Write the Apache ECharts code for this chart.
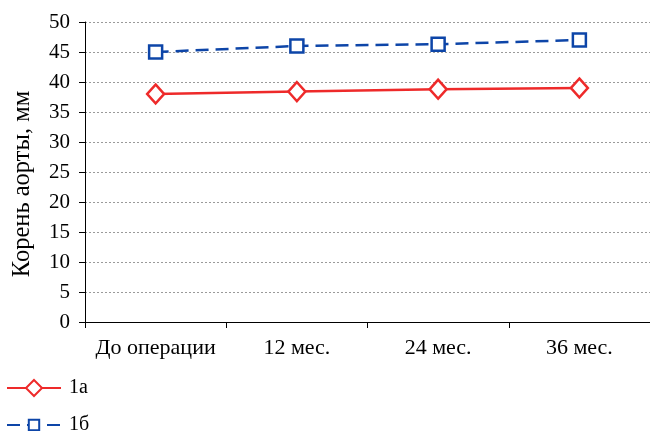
<!DOCTYPE html>
<html>
<head>
<meta charset="utf-8">
<script src="https://cdn.jsdelivr.net/npm/echarts@6/dist/echarts.min.js"></script>
<style>
  html, body { margin: 0; padding: 0; background: #fff; }
  #chart { width: 650px; height: 431px; }
</style>
</head>
<body>
<div id="chart"></div>
<script>
// Aortic root diameter over follow-up, two patient groups
const categories = ['До операции', '12 мес.', '24 мес.', '36 мес.'];
const group1a = [38.0, 38.4, 38.8, 39.0];
const group1b = [45.0, 46.0, 46.3, 47.0];
const yTicks = { min: 0, max: 50, interval: 5 };

const font = '"Liberation Serif", "Times New Roman", serif';
const red = '#ee2a2a';
const blue = '#0d45a8';
const chart = echarts.init(document.getElementById('chart'));

// one legend block per series, stacked under the plot
const legendBase = {
  orient: 'vertical',
  left: 1,
  itemWidth: 54,
  itemGap: 0,
  padding: [0, 5, 0, 5],
  textStyle: { fontFamily: font, fontSize: 20, color: '#000', padding: [0, 0, 0, 3] }
};

chart.setOption({
  animation: false,
  textStyle: { fontFamily: font },
  grid: { left: 85, right: 0, top: 22, bottom: 109 },
  legend: [
    Object.assign({}, legendBase, { top: 378, itemHeight: 20, data: ['1а'] }),
    Object.assign({}, legendBase, { top: 415, itemHeight: 13, data: ['1б'] })
  ],
  xAxis: {
    type: 'category',
    data: categories,
    boundaryGap: true,
    axisLine: { lineStyle: { color: '#000', width: 1 } },
    axisTick: { show: true, interval: 0, length: 6, lineStyle: { color: '#000' } },
    axisLabel: { interval: 0, fontFamily: font, fontSize: 22, color: '#000', margin: 15 },
    splitLine: { show: false }
  },
  yAxis: {
    type: 'value',
    min: yTicks.min,
    max: yTicks.max,
    interval: yTicks.interval,
    name: 'Корень аорты, мм',
    nameLocation: 'middle',
    nameGap: 50,
    nameTextStyle: { fontFamily: font, fontSize: 24.5, color: '#000', padding: [0, 24, 0, 0] },
    axisLine: { show: true, lineStyle: { color: '#000', width: 1 } },
    axisTick: { show: true, length: 6, lineStyle: { color: '#000' } },
    axisLabel: { fontFamily: font, fontSize: 21, color: '#000', margin: 15 },
    splitLine: { show: true, lineStyle: { color: '#9a9a9a', type: [2, 2], width: 1 } }
  },
  series: [
    {
      name: '1а',
      type: 'line',
      data: group1a,
      symbol: 'diamond',
      symbolSize: [17, 19],
      showAllSymbol: true,
      itemStyle: { color: '#fff', borderColor: red, borderWidth: 2.5 },
      lineStyle: { color: red, width: 2.5 }
    },
    {
      name: '1б',
      type: 'line',
      data: group1b,
      symbol: 'rect',
      symbolSize: 13,
      showAllSymbol: true,
      itemStyle: { color: '#fff', borderColor: blue, borderWidth: 2.5 },
      lineStyle: { color: blue, width: 2.5, type: [13, 7] }
    }
  ]
});
</script>
</body>
</html>
